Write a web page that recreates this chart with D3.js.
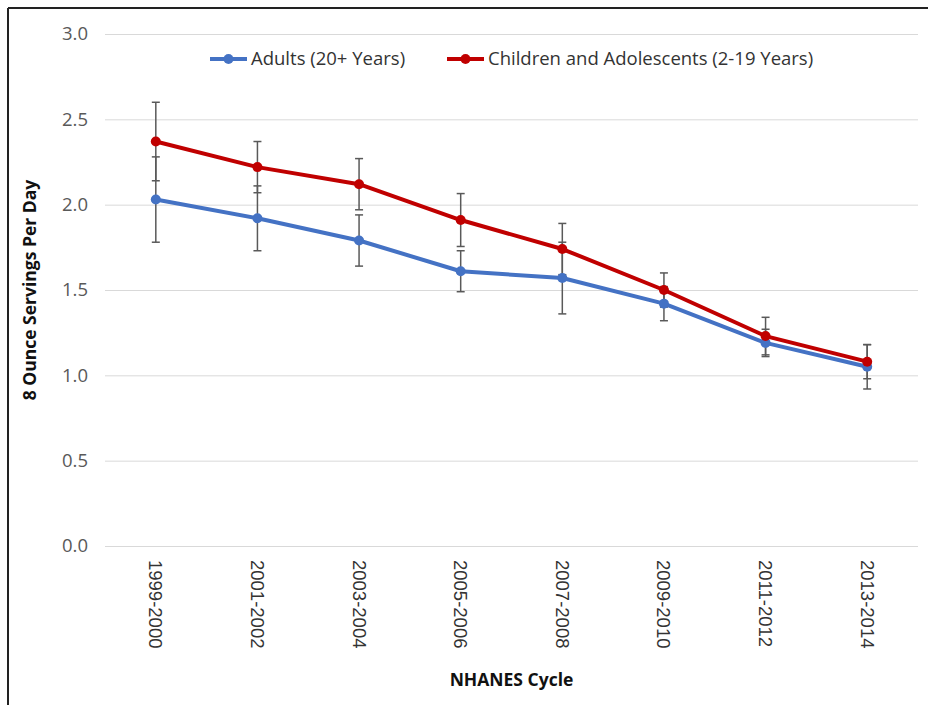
<!DOCTYPE html>
<html>
<head>
<meta charset="utf-8">
<script src="https://cdn.jsdelivr.net/npm/d3@7"></script>
<style>
  body { margin: 0; background: #fff; }
</style>
</head>
<body>
<svg id="chart"></svg>
<script>
const cycles = ["1999-2000", "2001-2002", "2003-2004", "2005-2006", "2007-2008", "2009-2010", "2011-2012", "2013-2014"];
const adults = [2.03, 1.92, 1.79, 1.61, 1.57, 1.42, 1.19, 1.05];
const adultsErr = [0.25, 0.19, 0.15, 0.12, 0.21, 0.10, 0.08, 0.13];
const children = [2.37, 2.22, 2.12, 1.91, 1.74, 1.50, 1.23, 1.08];
const childrenErr = [0.23, 0.15, 0.15, 0.155, 0.15, 0.10, 0.11, 0.10];
const yTicks = [0, 0.5, 1.0, 1.5, 2.0, 2.5, 3.0];
const seriesNames = ["Adults (20+ Years)", "Children and Adolescents (2-19 Years)"];

const w = 928, h = 705;
const margin = { top: 34, right: 10, bottom: 159, left: 105 };

const series = [
    { name: seriesNames[0], values: adults, err: adultsErr, color: "#4472c4" },
    { name: seriesNames[1], values: children, err: childrenErr, color: "#c00000" }
];

const svg = d3.select("#chart").attr("width", w).attr("height", h);

// frame
svg.append("line").attr("x1", 8).attr("x2", w).attr("y1", 8).attr("y2", 8)
    .attr("stroke", "#222").attr("stroke-width", 2);
svg.append("line").attr("x1", 8).attr("x2", 8).attr("y1", 8).attr("y2", h)
    .attr("stroke", "#222").attr("stroke-width", 2);

const xScale = d3.scaleBand()
    .domain(cycles)
    .range([margin.left, w - margin.right]);

const yScale = d3.scaleLinear()
    .domain([0, 3])
    .range([h - margin.bottom, margin.top]);

// grid + y labels
let yAxis = g => g
    .attr("transform", `translate(${margin.left},0)`)
    .call(d3.axisLeft(yScale).tickValues(yTicks).tickFormat(d3.format(".1f"))
        .tickSize(-(w - margin.right - margin.left)).tickPadding(17))
    .call(g => g.select(".domain").remove())
    .call(g => g.selectAll(".tick line").attr("stroke", "#d9d9d9"))
    .call(g => g.selectAll(".tick text")
        .style("font-family", "'Open Sans', sans-serif")
        .style("font-size", "18.5px")
        .attr("fill", "#595959"));
svg.append("g").call(yAxis);

// x labels
let xAxis = g => g
    .attr("transform", `translate(0,${h - margin.bottom})`)
    .call(d3.axisBottom(xScale).tickSize(0))
    .call(g => g.select(".domain").remove())
    .call(g => g.selectAll(".tick text")
        .style("font-family", "'Liberation Sans', Arial, sans-serif")
        .style("font-size", "18.5px")
        .attr("fill", "#333")
        .attr("transform", "rotate(90)")
        .attr("text-anchor", "start")
        .attr("x", 14)
        .attr("y", 0)
        .attr("dy", "0.35em"));
svg.append("g").call(xAxis);

const cx = d => xScale(d) + xScale.bandwidth() / 2;

// error bars
series.forEach(s => {
    const eb = svg.append("g").attr("stroke", "#595959").attr("stroke-width", 1.5);
    cycles.forEach((c, i) => {
        const x = cx(c);
        const lo = yScale(s.values[i] - s.err[i]);
        const hi = yScale(s.values[i] + s.err[i]);
        eb.append("line").attr("x1", x).attr("x2", x).attr("y1", lo).attr("y2", hi);
        eb.append("line").attr("x1", x - 4).attr("x2", x + 4).attr("y1", lo).attr("y2", lo);
        eb.append("line").attr("x1", x - 4).attr("x2", x + 4).attr("y1", hi).attr("y2", hi);
    });
});

// lines + markers
const line = d3.line()
    .x((d, i) => cx(cycles[i]))
    .y(d => yScale(d));

series.forEach(s => {
    svg.append("path")
        .datum(s.values)
        .attr("fill", "none")
        .attr("stroke", s.color)
        .attr("stroke-width", 4)
        .attr("stroke-linejoin", "round")
        .attr("d", line);
    svg.append("g")
        .selectAll("circle")
        .data(s.values)
        .join("circle")
        .attr("cx", (d, i) => cx(cycles[i]))
        .attr("cy", d => yScale(d))
        .attr("r", 5)
        .attr("fill", s.color);
});

// legend
const legendPos = [210, 447];
series.forEach((s, i) => {
    const lg = svg.append("g").attr("transform", `translate(${legendPos[i]},59)`);
    lg.append("line").attr("x1", 0).attr("x2", 37).attr("y1", 0).attr("y2", 0)
        .attr("stroke", s.color).attr("stroke-width", 4);
    lg.append("circle").attr("cx", 18.5).attr("cy", 0).attr("r", 5).attr("fill", s.color);
    lg.append("text")
        .attr("x", 41)
        .attr("y", 0)
        .attr("dy", "0.35em")
        .style("font-family", "'Open Sans', sans-serif")
        .style("font-size", "18.5px")
        .attr("fill", "#333")
        .text(s.name);
});

// axis titles
svg.append("text")
    .attr("transform", `translate(36,${yScale(1.5)}) rotate(-90)`)
    .attr("text-anchor", "middle")
    .style("font-family", "'Open Sans', sans-serif")
    .style("font-size", "17.5px")
    .style("font-weight", "bold")
    .attr("fill", "#111")
    .text("8 Ounce Servings Per Day");

svg.append("text")
    .attr("x", (margin.left + w - margin.right) / 2)
    .attr("y", 686)
    .attr("text-anchor", "middle")
    .style("font-family", "'Open Sans', sans-serif")
    .style("font-size", "17.5px")
    .style("font-weight", "bold")
    .attr("fill", "#111")
    .text("NHANES Cycle");
</script>
</body>
</html>
